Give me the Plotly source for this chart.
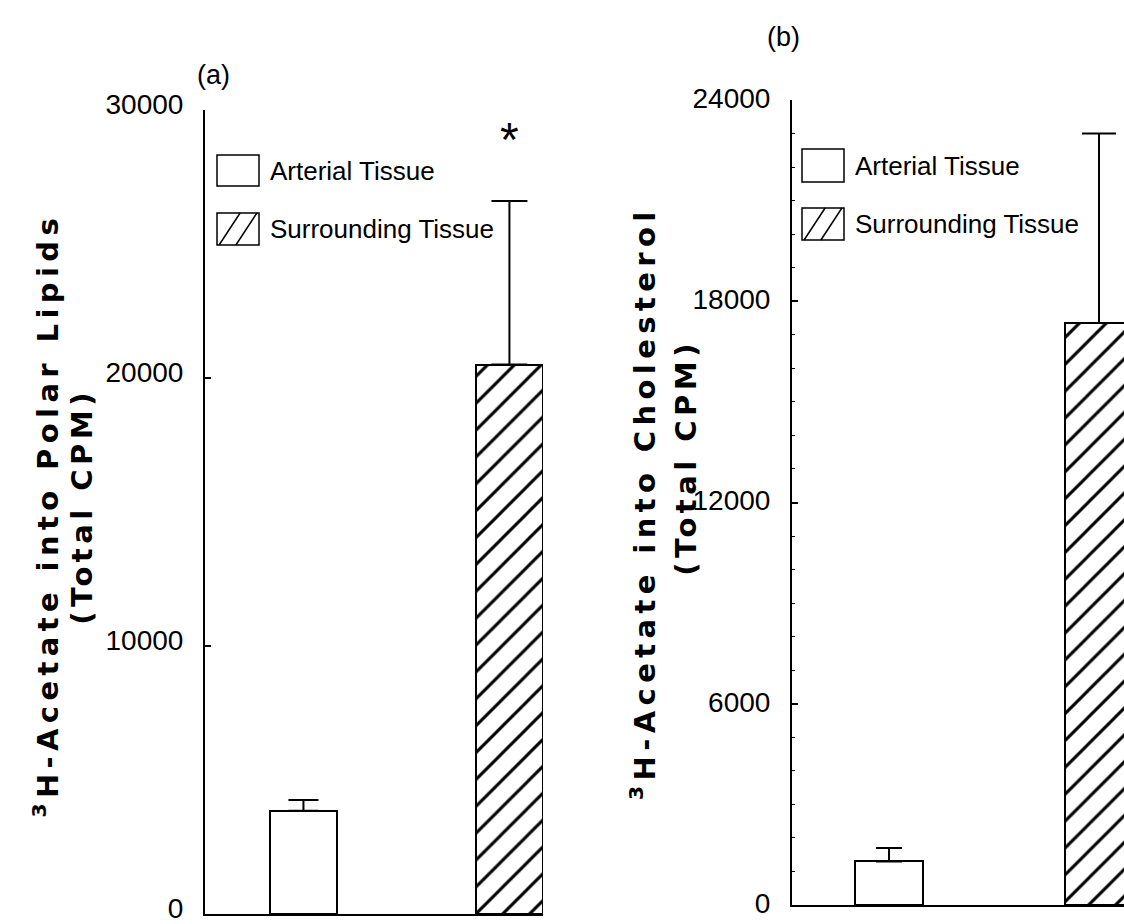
import plotly.graph_objects as go

# ---- data -------------------------------------------------------------
groups = ["Arterial Tissue", "Surrounding Tissue"]
positions = [1, 2]

# (a) 3H-acetate incorporated into polar lipids, total CPM (mean, SEM)
polar_mean = [3850, 20500]
polar_sem = [400, 6100]

# (b) 3H-acetate incorporated into cholesterol, total CPM (mean, SEM)
chol_mean = [1300, 17350]
chol_sem = [400, 5650]

ticks_a = [0, 10000, 20000, 30000]
ticks_b = [0, 6000, 12000, 18000, 24000]

# ---- styling ----------------------------------------------------------
W, H = 1124, 924
SANS = "Liberation Sans, Arial, Helvetica, sans-serif"
BOLD = "DejaVu Sans, Verdana, sans-serif"
BAR_W = 0.325


def fx(px):
    return px / W


def fy(py):
    return 1 - py / H


fig = go.Figure()


def add_panel(means, sems, xa, ya, cap_widths):
    for i, (name, pos, m, s) in enumerate(zip(groups, positions, means, sems)):
        hatched = i == 1
        fig.add_trace(go.Bar(
            x=[pos], y=[m], width=BAR_W, name=name, showlegend=False,
            xaxis=xa, yaxis=ya,
            marker=dict(
                color="white",
                line=dict(color="black", width=2),
                pattern=dict(shape="/" if hatched else "", size=19,
                             solidity=0.16, fgcolor="#000000", fgopacity=1,
                             bgcolor="white", fillmode="replace"),
            ),
            error_y=dict(type="data", symmetric=False, array=[s], arrayminus=[0],
                         color="black", thickness=2, width=cap_widths[i]),
        ))


add_panel(polar_mean, polar_sem, "x", "y", [15, 18])
add_panel(chol_mean, chol_sem, "x2", "y2", [13, 17])

axis_common = dict(showgrid=False, zeroline=False, showline=True,
                   linecolor="black", linewidth=2, automargin=False)
ytick_common = dict(ticks="inside", ticklen=6, tickwidth=1.5, tickcolor="black",
                    ticklabelstandoff=14, ticklabeloverflow="allow",
                    tickfont=dict(family=SANS, size=28, color="black"))

fig.update_layout(
    width=W, height=H,
    autosize=False,
    margin=dict(l=0, r=0, t=0, b=0, pad=0, autoexpand=False),
    paper_bgcolor="white", plot_bgcolor="white",
    showlegend=False,
    bargap=0,
    xaxis=dict(domain=[fx(205), fx(543)], range=[0.522, 2.163],
               showticklabels=False, ticks="", anchor="y", **axis_common),
    yaxis=dict(domain=[fy(914), fy(110)], range=[0, 30000], anchor="x",
               tickvals=ticks_a, ticktext=[str(v) for v in ticks_a],
               ticklabelshift=-6, **ytick_common, **axis_common),
    xaxis2=dict(domain=[fx(792), 1.0], range=[0.538, 2.119],
                showticklabels=False, ticks="", anchor="y2", **axis_common),
    yaxis2=dict(domain=[fy(905), fy(100)], range=[0, 24000], anchor="x2",
                tickvals=ticks_b, ticktext=[str(v) for v in ticks_b],
                minor=dict(dtick=1000, ticks="inside", ticklen=3,
                           tickcolor="black", tickwidth=1),
                ticklabelshift=-2, **ytick_common, **axis_common),
)

# ---- legends drawn as swatches + labels ----------------------------------
shapes = []
annotations = []


def legend(x0, rows):
    for (y0, y1, name, hatched) in rows:
        x1 = x0 + 42
        shapes.append(dict(type="rect", xref="paper", yref="paper",
                           x0=fx(x0), x1=fx(x1), y0=fy(y1), y1=fy(y0),
                           line=dict(color="black", width=1.5),
                           fillcolor="white"))
        if hatched:
            w = x1 - x0
            for a, b in [(0.05, 0.55), (0.45, 0.95)]:
                shapes.append(dict(type="line", xref="paper", yref="paper",
                                   x0=fx(x0 + a * w), y0=fy(y1),
                                   x1=fx(x0 + b * w), y1=fy(y0),
                                   line=dict(color="black", width=1.5)))
        annotations.append(dict(text=name, xref="paper", yref="paper",
                                x=fx(x1 + 9), y=fy((y0 + y1) / 2),
                                xanchor="left", yanchor="middle",
                                showarrow=False,
                                font=dict(family=SANS, size=26, color="black")))


legend(217, [(155, 186, groups[0], False), (213, 245, groups[1], True)])
legend(802, [(149, 182, groups[0], False), (208, 240, groups[1], True)])

# significance marker over the surrounding-tissue bar in (a)
annotations.append(dict(text="*", xref="x", yref="y", x=positions[1], y=28900,
                        showarrow=False, xanchor="center", yanchor="middle",
                        font=dict(family=SANS, size=48, color="black")))

# panel letters
annotations.append(dict(text="(a)", xref="paper", yref="paper",
                        x=fx(213), y=fy(75), showarrow=False,
                        xanchor="center", yanchor="middle",
                        font=dict(family=SANS, size=27, color="black")))
annotations.append(dict(text="(b)", xref="paper", yref="paper",
                        x=fx(783), y=fy(37), showarrow=False,
                        xanchor="center", yanchor="middle",
                        font=dict(family=SANS, size=27, color="black")))

# y-axis titles, two lines each
titles = [
    ("<sup>3</sup>H-Acetate into Polar Lipids", 46, 515),
    ("(Total CPM)", 82, 507),
    ("<sup>3</sup>H-Acetate into Cholesterol", 643, 503),
    ("(Total CPM)", 686, 458),
]
for text, cx, cy in titles:
    annotations.append(dict(text=text, xref="paper", yref="paper",
                            x=fx(cx), y=fy(cy), textangle=-90,
                            xanchor="center", yanchor="middle", showarrow=False,
                            font=dict(family=BOLD, size=29, color="black",
                                      weight="bold")))

fig.update_layout(shapes=shapes, annotations=annotations)

# widen the tracking of the bold axis titles
spacing_js = """
document.querySelectorAll('g.annotation text').forEach(function (t) {
  var s = t.textContent;
  if (s.indexOf('Acetate') >= 0) {
    t.style.letterSpacing = '5.4px';
  } else if (s.indexOf('Total CPM') >= 0) {
    t.style.letterSpacing = '4.5px';
  }
});
"""

fig.write_html("out.html", post_script=spacing_js)
